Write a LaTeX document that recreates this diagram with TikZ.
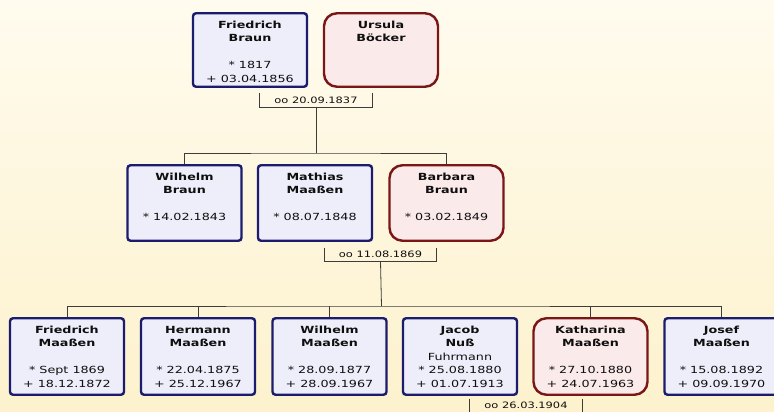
\documentclass[tikz,border=0pt]{standalone}
\usepackage{fontspec}
\newfontfamily\treefont[FakeStretch=1.3]{DejaVu Sans}
\definecolor{bgtop}{RGB}{255,251,238}
\definecolor{bgbot}{RGB}{253,242,205}
\definecolor{navy}{RGB}{28,28,110}
\definecolor{bluefill}{RGB}{238,238,250}
\definecolor{maroon}{RGB}{122,22,22}
\definecolor{redfill}{RGB}{250,234,234}
\definecolor{linecol}{RGB}{60,60,60}
\definecolor{textcol}{RGB}{15,15,15}
\newcommand\fl{\rule{0pt}{9.5pt}}
\newcommand\nm[1]{\textbf{#1}}
\tikzset{
  person/.style={draw, line width=2.4pt, minimum width=114pt, inner sep=0pt},
  bluebox/.style={person, draw=navy, fill=bluefill, rounded corners=3pt},
  redbox/.style={person, draw=maroon, fill=redfill, rounded corners=13pt},
  row1/.style={minimum height=73.5pt},
  row2/.style={minimum height=75.5pt},
  row3/.style={minimum height=76.5pt},
  ptext/.style={anchor=north, inner sep=0pt, align=center, yshift=-6.5pt,
    font=\treefont\fontsize{9.8}{13.5}\selectfont, text=textcol},
  marr/.style={minimum width=112pt, minimum height=13.5pt, inner sep=0pt,
    font=\treefont\fontsize{8.8}{10}\selectfont, text=textcol},
  bracket/.style={draw=linecol, line width=0.7pt},
  conn/.style={draw=linecol, line width=0.8pt}
}
\begin{document}
\begin{tikzpicture}[x=1pt,y=-1pt]
\useasboundingbox (0,0) rectangle (774,412);
\clip (0,0) rectangle (774,412);
\shade[top color=bgtop, bottom color=bgbot] (0,0) rectangle (774,412);

% row 1
\node[bluebox,row1] (p11) at (250,50) {};
\node[redbox,row1] (p12) at (381,50) {};
\node[ptext] (t11) at (p11.north) {\fl\nm{Friedrich}\\\nm{Braun}\\[13.5pt]* 1817\\+ 03.04.1856};
\node[ptext] (t12) at (p12.north) {\fl\nm{Ursula}\\\nm{Böcker}};
\node[marr] (m1) at (316,100) {oo 20.09.1837};

% row 2
\node[bluebox,row2] (p21) at (184.5,203) {};
\node[bluebox,row2] (p22) at (315,203) {};
\node[redbox,row2] (p23) at (446.5,203) {};
\node[ptext] (t21) at (p21.north) {\fl\nm{Wilhelm}\\\nm{Braun}\\[13.5pt]* 14.02.1843};
\node[ptext] (t22) at (p22.north) {\fl\nm{Mathias}\\\nm{Maaßen}\\[13.5pt]* 08.07.1848};
\node[ptext] (t23) at (p23.north) {\fl\nm{Barbara}\\\nm{Braun}\\[13.5pt]* 03.02.1849};
\node[marr] (m2) at (380.5,254.5) {oo 11.08.1869};

% row 3
\node[bluebox,row3] (p31) at (67,356.5) {};
\node[bluebox,row3] (p32) at (198,356.5) {};
\node[bluebox,row3] (p33) at (329.5,356.5) {};
\node[bluebox,row3] (p34) at (460,356.5) {};
\node[redbox,row3] (p35) at (590.5,356.5) {};
\node[bluebox,row3] (p36) at (721.5,356.5) {};
\node[ptext] (t31) at (p31.north) {\fl\nm{Friedrich}\\\nm{Maaßen}\\[13.5pt]* Sept 1869\\+ 18.12.1872};
\node[ptext] (t32) at (p32.north) {\fl\nm{Hermann}\\\nm{Maaßen}\\[13.5pt]* 22.04.1875\\+ 25.12.1967};
\node[ptext] (t33) at (p33.north) {\fl\nm{Wilhelm}\\\nm{Maaßen}\\[13.5pt]* 28.09.1877\\+ 28.09.1967};
\node[ptext] (t34) at (p34.north) {\fl\nm{Jacob}\\\nm{Nuß}\\Fuhrmann\\* 25.08.1880\\+ 01.07.1913};
\node[ptext] (t35) at (p35.north) {\fl\nm{Katharina}\\\nm{Maaßen}\\[13.5pt]* 27.10.1880\\+ 24.07.1963};
\node[ptext] (t36) at (p36.north) {\fl\nm{Josef}\\\nm{Maaßen}\\[13.5pt]* 15.08.1892\\+ 09.09.1970};
\node[marr] (m3) at (526,405.5) {oo 26.03.1904};

% marriage brackets
\foreach \m in {m1,m2,m3}
  \draw[bracket] (\m.north west) |- (\m.south east) -- (\m.north east);

% connectors
\coordinate (j1) at (316,153);
\coordinate (j2) at (381.5,306);
\draw[conn] (m1.south) -- (j1);
\draw[conn] (p21.north) |- (j1) -| (p23.north);
\draw[conn] (m2.south) -- (j2);
\draw[conn] (p31.north) |- (j2) -| (p36.north);
\foreach \p in {p32,p33,p35}
  \draw[conn] (\p.north) -- (\p.north |- j2);
\end{tikzpicture}
\end{document}
